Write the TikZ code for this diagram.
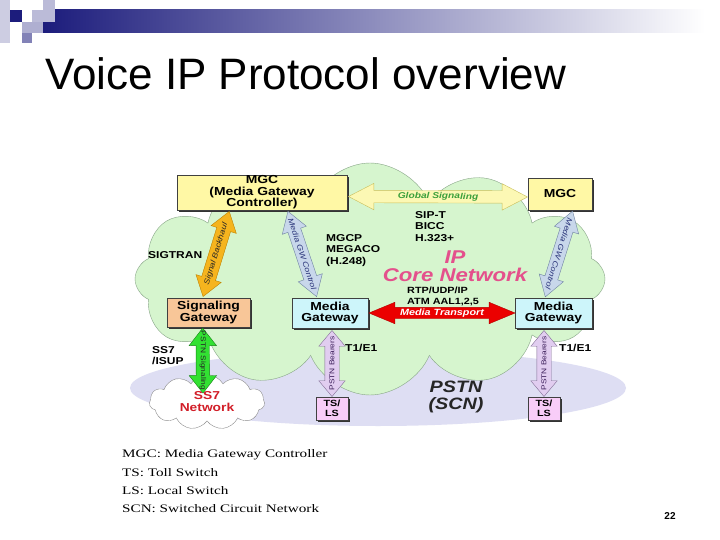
\documentclass[tikz,border=0pt]{standalone}
\usepackage{fontspec}
\setmainfont{Liberation Sans}
\newfontfamily\diag[FakeStretch=1.2]{Liberation Sans}
\newfontfamily\legfont[FakeStretch=1.32]{Liberation Serif}
\usepackage{tikz}
\usetikzlibrary{calc,shapes.symbols,shapes.arrows,shadows}

\definecolor{barblue}{RGB}{28,28,124}
\definecolor{cloudgreen}{RGB}{214,245,206}
\definecolor{cloudline}{RGB}{135,165,135}
\definecolor{pstnblue}{RGB}{222,222,243}
\definecolor{mgcyellow}{RGB}{255,248,165}
\definecolor{sgwpeach}{RGB}{248,198,152}
\definecolor{mgwcyan}{RGB}{205,245,250}
\definecolor{tspink}{RGB}{248,205,248}
\definecolor{corepink}{RGB}{228,80,140}
\definecolor{ss7red}{RGB}{210,30,40}
\definecolor{globfill}{RGB}{252,248,180}
\definecolor{globline}{RGB}{200,190,90}
\definecolor{globtext}{RGB}{60,160,60}
\definecolor{haulfill}{RGB}{245,180,30}
\definecolor{haulline}{RGB}{190,130,0}
\definecolor{ctlfill}{RGB}{200,215,235}
\definecolor{ctlline}{RGB}{110,130,160}
\definecolor{ctltext}{RGB}{40,50,120}
\definecolor{sigfill}{RGB}{50,225,50}
\definecolor{sigline}{RGB}{20,130,20}
\definecolor{bearfill}{RGB}{225,205,240}
\definecolor{bearline}{RGB}{130,110,150}
\definecolor{beartext}{RGB}{60,30,90}

\begin{document}
\begin{tikzpicture}[x=1pt,y=-1pt,
  box/.style={draw=black!75,thin,align=center,inner sep=0pt,
    font=\diag\bfseries\fontsize{11.6}{11.4}\selectfont,
    drop shadow={shadow xshift=2pt,shadow yshift=-2pt,opacity=1,fill=black!80}},
  lbl/.style={align=left,inner sep=0pt,font=\diag\bfseries\fontsize{10}{11.5}\selectfont},
  blk/.style={double arrow,draw,thin,sloped,midway,inner xsep=0pt,inner ysep=6.5pt,
    double arrow head extend=6pt},
  atxt/.style={midway,sloped,inner sep=0pt,font=\diag\itshape\fontsize{7.5}{8}\selectfont},
  leg/.style={anchor=west,inner sep=0pt,font=\legfont\fontsize{11.5}{14}\selectfont}]
\useasboundingbox (0,0) rectangle (720,540);
\fill[white] (0,0) rectangle (720,540);

% slide header
\shade[left color=barblue,middle color=barblue!45,right color=white] (43,10) rectangle (705,33);
\fill[barblue!22] (0,0) rectangle (10,43);
\fill[barblue!30] (43,0) rectangle (55,10);
\fill[barblue!30] (32,10) rectangle (55,22);
\fill[barblue] (10,10) rectangle (22,22);
\fill[barblue!35] (22,22) rectangle (43,33);
\fill[barblue!55] (22,33) rectangle (32,43);
\node[anchor=base west,inner sep=0pt,font=\fontsize{44}{48}\selectfont] (title) at (45,90) {Voice IP Protocol overview};

% networks
\fill[pstnblue] (378,388) ellipse [x radius=248, y radius=38];
\node[cloud,cloud puffs=12,cloud puff arc=135,aspect=2,draw=cloudline,fill=cloudgreen,
  minimum width=470,minimum height=232] (core) at (370,279) {};
\node[cloud,cloud puffs=11,cloud puff arc=120,aspect=3,draw=black!45,fill=white,
  minimum width=104,minimum height=31,align=center,text=ss7red,
  font=\diag\bfseries\fontsize{11.5}{12}\selectfont] (ss7) at (207,402) {SS7\\Network};

% boxes
\node[box,fill=mgcyellow,minimum width=170,minimum height=35] (mgc1) at (262,192.5) {MGC\\(Media Gateway\\Controller)};
\node[box,fill=mgcyellow,minimum width=64,minimum height=32] (mgc2) at (560,194) {MGC};
\node[box,fill=sgwpeach,minimum width=83,minimum height=29] (sgw) at (208.5,312.5) {Signaling\\Gateway};
\node[box,fill=mgwcyan,minimum width=76,minimum height=30] (mgw1) at (330,313) {Media\\Gateway};
\node[box,fill=mgwcyan,minimum width=77,minimum height=30] (mgw2) at (553.5,313) {Media\\Gateway};
\node[box,fill=tspink,minimum width=32,minimum height=23,font=\diag\bfseries\fontsize{9}{10}\selectfont] (tsls1) at (332,408.5) {TS/\\LS};
\node[box,fill=tspink,minimum width=32,minimum height=23,font=\diag\bfseries\fontsize{9}{10}\selectfont] (tsls2) at (544,408.5) {TS/\\LS};

% block arrows
\path ($(mgc1.east)+(1,4)$) -- ($(mgc2.west)+(0,3)$)
  node[blk,fill=globfill,draw=globline,inner ysep=6pt,double arrow head extend=7pt,
    double arrow tip angle=55,minimum height=179] (glob) {}
  node[atxt,text=globtext,font=\diag\bfseries\itshape\fontsize{8.5}{9}\selectfont] (glob-t) {Global Signaling};
\path ($(sgw.north west)!0.43!(sgw.north east)$) -- ($(mgc1.south west)!0.31!(mgc1.south east)$)
  node[blk,fill=haulfill,draw=haulline,inner ysep=7pt,double arrow tip angle=70,minimum height=89] (haul) {}
  node[atxt,text=black!85] (haul-t) {Signal Backhaul};
\path ($(mgc1.south west)!0.65!(mgc1.south east)$) -- ($(mgw1.north west)!0.33!(mgw1.north east)$)
  node[blk,fill=ctlfill,draw=ctlline,double arrow tip angle=65,minimum height=90] (ctl1) {}
  node[atxt,text=ctltext] (ctl1-t) {Media GW Control};
\path ($(mgc2.south west)!0.7!(mgc2.south east)$) -- ($(mgw2.north west)!0.39!(mgw2.north east)$)
  node[blk,allow upside down,fill=ctlfill,draw=ctlline,double arrow tip angle=65,minimum height=90] (ctl2) {}
  node[atxt,allow upside down,text=ctltext] (ctl2-t) {Media GW Control};
\path ($(mgw1.east)+(1,0)$) -- (mgw2.west)
  node[blk,fill=red!92!black,draw=red!70!black,inner ysep=5.5pt,double arrow head extend=5pt,
    double arrow tip angle=45,minimum height=146] (trans) {}
  node[atxt,text=white,font=\diag\bfseries\itshape\fontsize{9}{9}\selectfont] (trans-t) {Media Transport};
\path ($(ss7.center)+(-4,-8)$) -- ($(sgw.south west)!0.43!(sgw.south east)$)
  node[blk,fill=sigfill,draw=sigline,double arrow head extend=7pt,double arrow tip angle=76,
    minimum height=65] (pstnsig) {}
  node[atxt,text=black!85,font=\diag\fontsize{7}{8}\selectfont] (pstnsig-t) {PSTN Signaling};
\path (tsls1.north) -- ($(tsls1.north |- mgw1.south)+(0,2)$)
  node[blk,fill=bearfill,draw=bearline,inner ysep=7pt,double arrow tip angle=80,minimum height=66] (bear1) {}
  node[atxt,text=beartext,font=\diag\fontsize{7}{8}\selectfont] (bear1-t) {PSTN Bearers};
\path (tsls2.north) -- ($(tsls2.north |- mgw2.south)+(0,2)$)
  node[blk,fill=bearfill,draw=bearline,inner ysep=7pt,double arrow tip angle=80,minimum height=66] (bear2) {}
  node[atxt,text=beartext,font=\diag\fontsize{7}{8}\selectfont] (bear2-t) {PSTN Bearers};

% protocol labels
\node[lbl,anchor=west] (sigtran) at (148,255) {SIGTRAN};
\node[lbl,anchor=north west] (mgcp) at (326,234) {MGCP\\MEGACO\\(H.248)};
\node[lbl,anchor=north west] (sipt) at (415,211) {SIP-T\\BICC\\H.323+};
\node[lbl,anchor=north west,font=\diag\bfseries\fontsize{9}{10.5}\selectfont] (rtp) at (407,287) {RTP/UDP/IP\\ATM AAL1,2,5};
\node[lbl,anchor=north west] (isup) at (152,346) {SS7\\/ISUP};
\node[lbl,anchor=west] (t1e1a) at (345,348) {T1/E1};
\node[lbl,anchor=west] (t1e1b) at (559,348) {T1/E1};
\node[align=center,text=corepink,font=\diag\bfseries\itshape\fontsize{18.5}{18}\selectfont] (corelbl) at (455,266) {IP\\Core Network};
\node[align=center,text=black!85,font=\diag\bfseries\itshape\fontsize{16.5}{17}\selectfont] (pstnlbl) at (456,397) {PSTN\\(SCN)};

% legend
\node[leg] (leg1) at (122,455) {MGC: Media Gateway Controller};
\node[leg] (leg2) at (122,473) {TS: Toll Switch};
\node[leg] (leg3) at (122,491) {LS: Local Switch};
\node[leg] (leg4) at (122,509) {SCN: Switched Circuit Network};
\node[font=\bfseries\fontsize{10}{12}\selectfont] (page) at (670,516) {22};
\end{tikzpicture}
\end{document}
